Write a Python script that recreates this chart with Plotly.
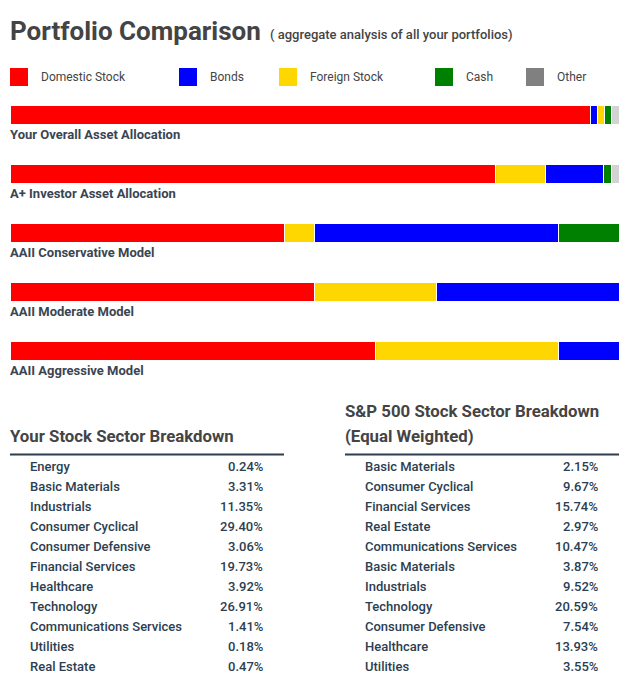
import plotly.graph_objects as go

# page adds an 8px body margin, so the figure is a bit smaller than the window
OFF = 8
W, H = 632 - OFF, 694 - OFF

# Asset allocation data
portfolios = ['Your Overall Asset Allocation', 'A+ Investor Asset Allocation',
              'AAII Conservative Model', 'AAII Moderate Model', 'AAII Aggressive Model']
segment_assets = [
    ['Domestic Stock', 'Bonds', 'Foreign Stock', 'Cash', 'Other'],
    ['Domestic Stock', 'Foreign Stock', 'Bonds', 'Cash', 'Other'],
    ['Domestic Stock', 'Foreign Stock', 'Bonds', 'Cash'],
    ['Domestic Stock', 'Foreign Stock', 'Bonds'],
    ['Domestic Stock', 'Foreign Stock', 'Bonds'],
]
segment_values = [
    [95.4, 1.1, 1.1, 1.2, 1.2],
    [79.8, 8.2, 9.4, 1.3, 1.3],
    [45, 5, 40, 10],
    [50, 20, 30],
    [60, 30, 10],
]

legend_names = ['Domestic Stock', 'Bonds', 'Foreign Stock', 'Cash', 'Other']
legend_colors = ['#ff0000', '#0000ff', '#ffd700', '#008000', '#808080']
bar_colors = {'Domestic Stock': '#ff0000', 'Bonds': '#0000ff', 'Foreign Stock': '#ffd700',
              'Cash': '#008000', 'Other': '#d3d3d3'}

# Sector tables
your_sectors = ['Energy', 'Basic Materials', 'Industrials', 'Consumer Cyclical',
                'Consumer Defensive', 'Financial Services', 'Healthcare', 'Technology',
                'Communications Services', 'Utilities', 'Real Estate']
your_pcts = [0.24, 3.31, 11.35, 29.40, 3.06, 19.73, 3.92, 26.91, 1.41, 0.18, 0.47]

sp_sectors = ['Basic Materials', 'Consumer Cyclical', 'Financial Services', 'Real Estate',
              'Communications Services', 'Basic Materials', 'Industrials', 'Technology',
              'Consumer Defensive', 'Healthcare', 'Utilities']
sp_pcts = [2.15, 9.67, 15.74, 2.97, 10.47, 3.87, 9.52, 20.59, 7.54, 13.93, 3.55]


def px(x):
    return (x - OFF) / W


def py(y):
    return 1 - (y - OFF) / H


FONT = 'Roboto'
fig = go.Figure()

# one trace per stack position so each bar keeps its own segment order
n_pos = max(len(s) for s in segment_values)
for k in range(n_pos):
    xs, cols, names = [], [], []
    for vals, assets in zip(segment_values, segment_assets):
        if k < len(vals):
            xs.append(vals[k])
            cols.append(bar_colors[assets[k]])
            names.append(assets[k])
        else:
            xs.append(0)
            cols.append('white')
            names.append('')
    fig.add_trace(go.Bar(
        y=portfolios, x=xs, orientation='h', text=names,
        marker=dict(color=cols, line=dict(color='white', width=1)),
        textposition='none', hovertemplate='%{text}: %{x}%<extra></extra>',
        showlegend=False,
    ))

annotations = []
shapes = []

# title
annotations.append(dict(x=px(8), y=py(31), xref='paper', yref='paper', text='<b>Portfolio Comparison</b>',
                        showarrow=False, xanchor='left', yanchor='middle',
                        font=dict(family=FONT, size=26, color='#444444')))
annotations.append(dict(x=px(268), y=py(35), xref='paper', yref='paper',
                        text='( aggregate analysis of all your portfolios)',
                        showarrow=False, xanchor='left', yanchor='middle',
                        font=dict(family=FONT, size=13, color='#444444', weight=500)))

# legend
legend_sq_x = [10, 179, 279, 435, 526]
for name, col, lx in zip(legend_names, legend_colors, legend_sq_x):
    shapes.append(dict(type='rect', xref='paper', yref='paper', x0=px(lx), x1=px(lx + 18),
                       y0=py(86), y1=py(68), fillcolor=col, line=dict(width=0)))
    annotations.append(dict(x=px(lx + 29), y=py(77), xref='paper', yref='paper', text=name,
                            showarrow=False, xanchor='left', yanchor='middle',
                            font=dict(family=FONT, size=12, color='#444444')))

# labels under each bar
for p in portfolios:
    annotations.append(dict(x=px(8), y=p, xref='paper', yref='y', yshift=-20,
                            text='<b>' + p + '</b>', showarrow=False,
                            xanchor='left', yanchor='middle',
                            font=dict(family=FONT, size=13, color='#3a4552')))


def sector_table(x_left, x_line_end, titles, names, pcts):
    title_y = [436] if len(titles) == 1 else [411, 436]
    for t, ty in zip(titles, title_y):
        annotations.append(dict(x=px(x_left - 2), y=py(ty), xref='paper', yref='paper',
                                text='<b>' + t + '</b>', showarrow=False,
                                xanchor='left', yanchor='middle',
                                font=dict(family=FONT, size=16.8, color='#444444')))
    shapes.append(dict(type='line', xref='paper', yref='paper', x0=px(x_left), x1=px(x_line_end),
                       y0=py(454.5), y1=py(454.5), line=dict(color='#2c3e50', width=2)))
    for i, (n, v) in enumerate(zip(names, pcts)):
        ry = 466 + 20 * i
        annotations.append(dict(x=px(x_left + 18), y=py(ry), xref='paper', yref='paper',
                                text=n, showarrow=False, xanchor='left', yanchor='middle',
                                font=dict(family=FONT, size=13, color='#2c3e50', weight=500)))
        annotations.append(dict(x=px(x_left + 255), y=py(ry), xref='paper', yref='paper',
                                text=f'{v:.2f}%', showarrow=False, xanchor='right', yanchor='middle',
                                font=dict(family=FONT, size=13, color='#2c3e50', weight=500)))


sector_table(10, 284, ['Your Stock Sector Breakdown'], your_sectors, your_pcts)
sector_table(345, 619, ['S&P 500 Stock Sector Breakdown', '(Equal Weighted)'], sp_sectors, sp_pcts)

fig.update_layout(
    width=W, height=H, margin=dict(l=0, r=0, t=0, b=0),
    paper_bgcolor='white', plot_bgcolor='white',
    barmode='stack', bargap=1 - 19 / 59,
    xaxis=dict(range=[0, 100], domain=[px(10), px(619)], visible=False, fixedrange=True),
    yaxis=dict(range=[4.5, -0.5], domain=[py(380), py(85)], visible=False, fixedrange=True),
    annotations=annotations, shapes=shapes,
)

fig.write_html('out.html')
